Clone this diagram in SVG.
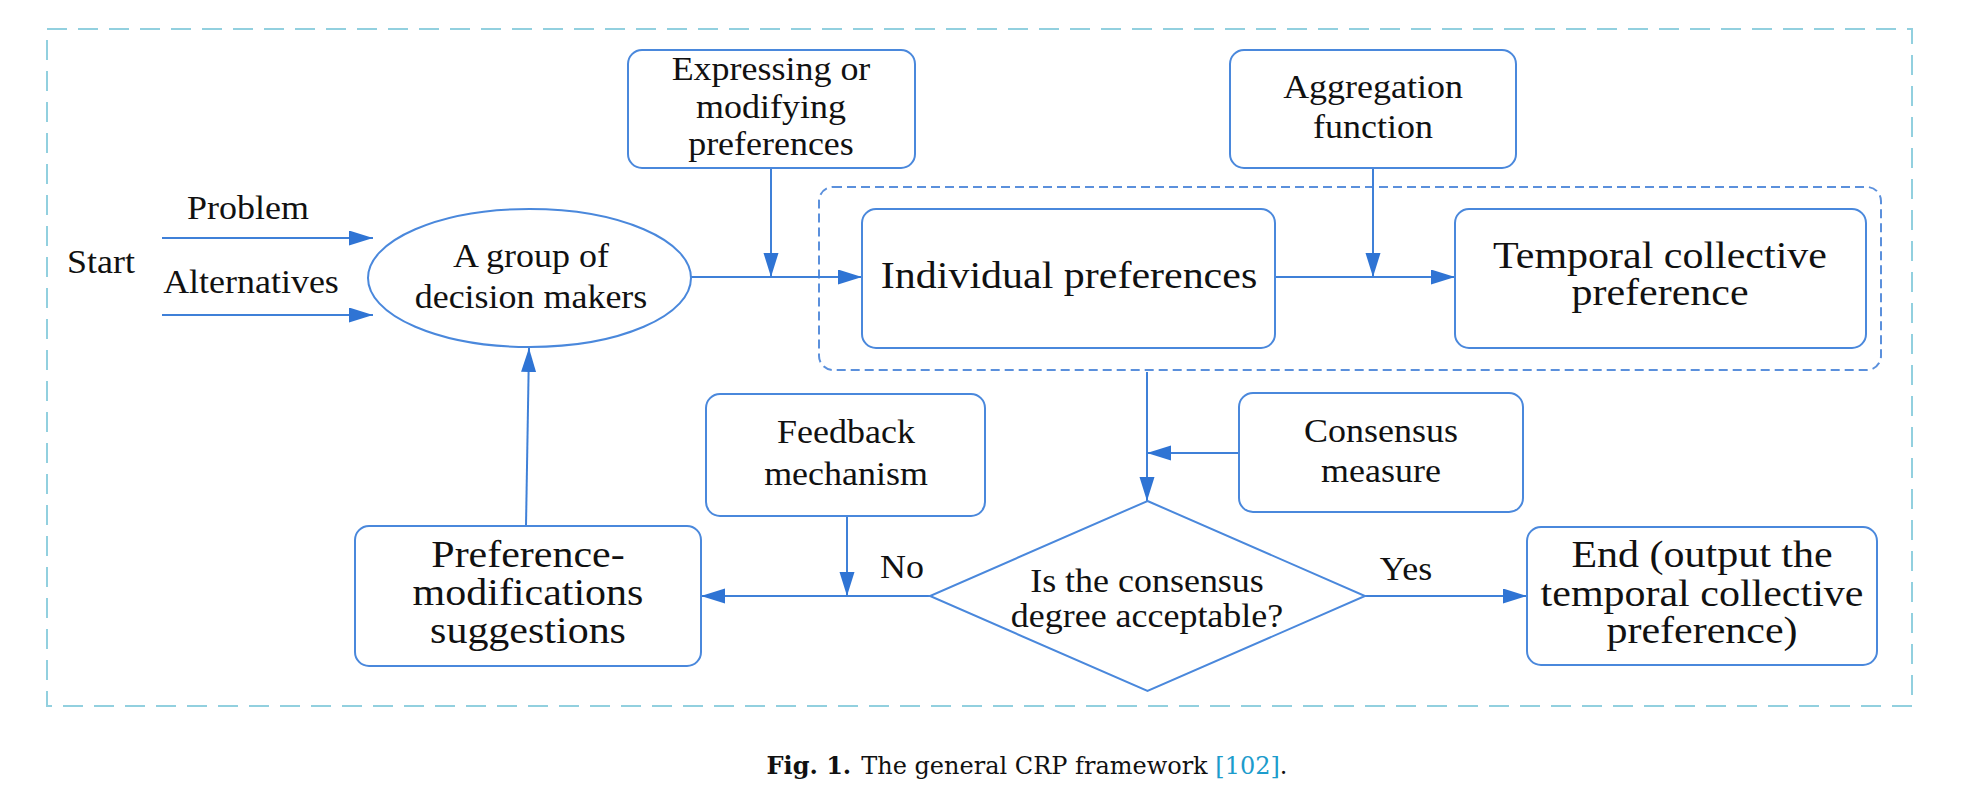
<svg xmlns="http://www.w3.org/2000/svg" width="1962" height="790" viewBox="0 0 1962 790">
<style>
.box{fill:#fff;stroke:#4a88dc;stroke-width:2}
.t{font-family:"Liberation Serif","Times New Roman",serif;fill:#111;text-anchor:middle}
.s{font-size:33px}
.b{font-size:38px}
.ln{fill:none;stroke:#3f80d8;stroke-width:2}
.cap{font-family:"DejaVu Serif",serif;font-size:24px;fill:#111;text-anchor:middle}
</style>
<defs>
<marker id="ah" markerUnits="userSpaceOnUse" markerWidth="26" markerHeight="16" refX="24" refY="7.5" orient="auto">
<path d="M0,0 L24,7.5 L0,15 Z" fill="#2f74d4"/>
</marker>
</defs>
<rect id="frame" x="47" y="29" width="1865" height="677" fill="none" stroke="#92d0df" stroke-width="2" stroke-dasharray="20,11"/>
<rect id="group-box" x="819" y="187" width="1062" height="183" rx="14" fill="none" stroke="#5b90dc" stroke-width="2" stroke-dasharray="9,5"/>

<g id="connectors">
<line class="ln" x1="162" y1="238" x2="373" y2="238" marker-end="url(#ah)"/>
<line class="ln" x1="162" y1="315" x2="373" y2="315" marker-end="url(#ah)"/>
<line class="ln" x1="691" y1="277" x2="862" y2="277" marker-end="url(#ah)"/>
<line class="ln" x1="771" y1="168" x2="771" y2="277" marker-end="url(#ah)"/>
<line class="ln" x1="1275" y1="277" x2="1455" y2="277" marker-end="url(#ah)"/>
<line class="ln" x1="1373" y1="168" x2="1373" y2="277" marker-end="url(#ah)"/>
<line class="ln" x1="1147" y1="372" x2="1147" y2="501" marker-end="url(#ah)"/>
<line class="ln" x1="1239" y1="453" x2="1147" y2="453" marker-end="url(#ah)"/>
<line class="ln" x1="930" y1="596" x2="701" y2="596" marker-end="url(#ah)"/>
<line class="ln" x1="847" y1="516" x2="847" y2="596" marker-end="url(#ah)"/>
<line class="ln" x1="1365" y1="596" x2="1527" y2="596" marker-end="url(#ah)"/>
<line class="ln" x1="526" y1="526" x2="529" y2="348" marker-end="url(#ah)"/>
<g transform="translate(902,0) scale(1.09,1)"><text class="t s" x="0" y="578">No</text></g>
<g transform="translate(1406,0) scale(1.09,1)"><text class="t s" x="0" y="580">Yes</text></g>
</g>

<g id="start">
<g transform="translate(101,0) scale(1.09,1)"><text class="t s" x="0" y="273">Start</text></g>
<g transform="translate(248,0) scale(1.09,1)"><text class="t s" x="0" y="219">Problem</text></g>
<g transform="translate(251,0) scale(1.09,1)"><text class="t s" x="0" y="293">Alternatives</text></g>
</g>

<g id="decision-makers">
<ellipse class="box" cx="529.5" cy="278" rx="161.5" ry="69"/>
<g transform="translate(531,0) scale(1.09,1)">
<text class="t s" x="0" y="267">A group of</text>
<text class="t s" x="0" y="308">decision makers</text>
</g>
</g>

<g id="expressing">
<rect class="box" x="628" y="50" width="287" height="118" rx="14"/>
<g transform="translate(771,0) scale(1.09,1)">
<text class="t s" x="0" y="80">Expressing or</text>
<text class="t s" x="0" y="118">modifying</text>
<text class="t s" x="0" y="155">preferences</text>
</g>
</g>

<g id="aggregation">
<rect class="box" x="1230" y="50" width="286" height="118" rx="14"/>
<g transform="translate(1373,0) scale(1.09,1)">
<text class="t s" x="0" y="98">Aggregation</text>
<text class="t s" x="0" y="138">function</text>
</g>
</g>

<g id="individual">
<rect class="box" x="862" y="209" width="413" height="139" rx="14"/>
<g transform="translate(1069,0) scale(1.105,1)">
<text class="t b" x="0" y="288">Individual preferences</text>
</g>
</g>

<g id="temporal">
<rect class="box" x="1455" y="209" width="411" height="139" rx="14"/>
<g transform="translate(1660,0) scale(1.105,1)">
<text class="t b" x="0" y="268">Temporal collective</text>
<text class="t b" x="0" y="305">preference</text>
</g>
</g>

<g id="feedback">
<rect class="box" x="706" y="394" width="279" height="122" rx="14"/>
<g transform="translate(846,0) scale(1.09,1)">
<text class="t s" x="0" y="443">Feedback</text>
<text class="t s" x="0" y="485">mechanism</text>
</g>
</g>

<g id="consensus">
<rect class="box" x="1239" y="393" width="284" height="119" rx="14"/>
<g transform="translate(1381,0) scale(1.09,1)">
<text class="t s" x="0" y="442">Consensus</text>
<text class="t s" x="0" y="482">measure</text>
</g>
</g>

<g id="suggestions">
<rect class="box" x="355" y="526" width="346" height="140" rx="14"/>
<g transform="translate(528,0) scale(1.105,1)">
<text class="t b" x="0" y="567">Preference-</text>
<text class="t b" x="0" y="605">modifications</text>
<text class="t b" x="0" y="643">suggestions</text>
</g>
</g>

<g id="decision">
<polygon class="box" points="1147.5,501 1365,596 1147.5,691 930,596"/>
<g transform="translate(1147,0) scale(1.09,1)">
<text class="t s" x="0" y="592">Is the consensus</text>
<text class="t s" x="0" y="627">degree acceptable?</text>
</g>
</g>

<g id="end">
<rect class="box" x="1527" y="527" width="350" height="138" rx="14"/>
<g transform="translate(1702,0) scale(1.105,1)">
<text class="t b" x="0" y="567">End (output the</text>
<text class="t b" x="0" y="606">temporal collective</text>
<text class="t b" x="0" y="643">preference)</text>
</g>
</g>

<text class="cap" x="1027" y="774"><tspan font-weight="bold">Fig. 1.</tspan><tspan dx="10">The general CRP framework </tspan><tspan fill="#1c9ccc">[102]</tspan>.</text>
</svg>
